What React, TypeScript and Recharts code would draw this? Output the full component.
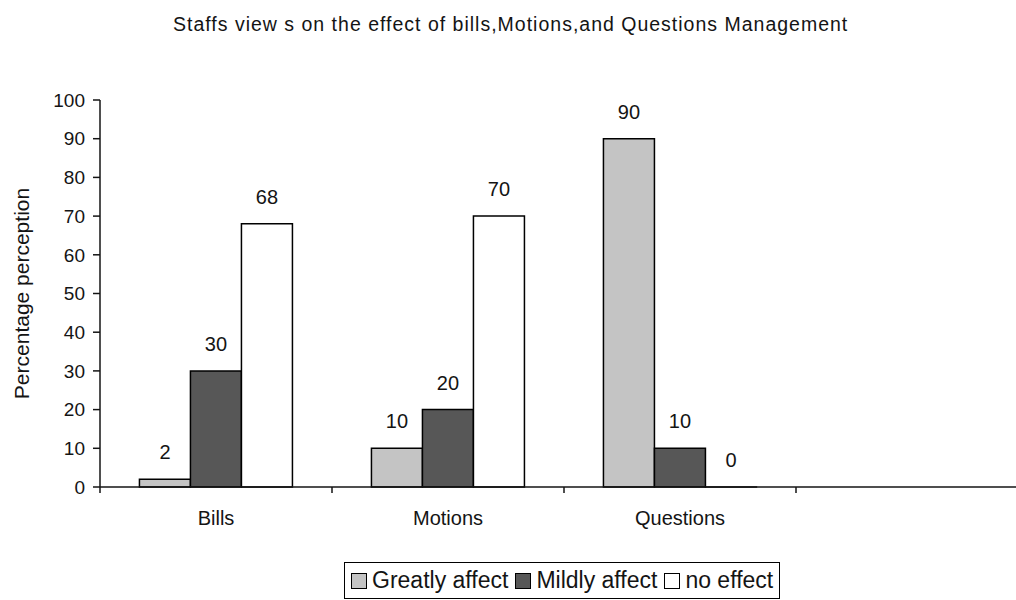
import { Bar, BarChart, XAxis, YAxis, LabelList } from "recharts"

const categories = ["Bills", "Motions", "Questions", ""]
const greatlyAffect = [2, 10, 90, null]
const mildlyAffect = [30, 20, 10, null]
const noEffect = [68, 70, 0, null]
const yTicks = [0, 10, 20, 30, 40, 50, 60, 70, 80, 90, 100]

const data = categories.map((name, i) => ({
  name,
  greatly: greatlyAffect[i],
  mildly: mildlyAffect[i],
  none: noEffect[i],
}))

const font = "'Liberation Sans', Arial, sans-serif"
const ink = "#141414"

const series = [
  { key: "greatly", label: "Greatly affect", fill: "#c4c4c4" },
  { key: "mildly", label: "Mildly affect", fill: "#575757" },
  { key: "none", label: "no effect", fill: "#ffffff" },
]

// ticks sit on the category boundaries, labels in the middle
function BoundaryTick(props: any) {
  const { x, y, payload } = props
  const half = payload.offset ?? 0
  return (
    <g>
      <line x1={x - half} x2={x - half} y1={y} y2={y + 6} stroke={ink} strokeWidth={1.5} />
      <text x={x} y={y + 38} textAnchor="middle" fontSize={20} fill={ink} fontFamily={font}>
        {payload.value}
      </text>
    </g>
  )
}

function ValueLabel(props: any) {
  const { x, y, width, value } = props
  if (value == null) return null
  return (
    <text
      x={Number(x) + Number(width) / 2}
      y={Number(y) - 20}
      textAnchor="middle"
      fontSize={20}
      fill={ink}
      fontFamily={font}
    >
      {value}
    </text>
  )
}

// a zero value still needs its "0" label, so keep a hair-thin bar for it
const keepZero = (v: any) => (v === 0 ? 0.01 : 0)

export default function App() {
  return (
    <div
      style={{
        position: "absolute",
        left: 0,
        top: 0,
        width: 1016,
        height: 600,
        overflow: "hidden",
        background: "#fff",
        fontFamily: font,
      }}
    >
      <div
        style={{
          position: "absolute",
          left: 173,
          top: 13,
          whiteSpace: "nowrap",
          fontSize: 19.5,
          letterSpacing: 1,
          color: ink,
        }}
      >
        Staffs view s on the effect of bills,Motions,and Questions Management
      </div>
      <BarChart
        width={1030}
        height={600}
        data={data}
        margin={{ top: 100, right: 2, left: 20, bottom: 83 }}
        barCategoryGap="17%"
        barGap={0}
      >
        <XAxis
          dataKey="name"
          interval={0}
          height={30}
          tickLine={false}
          tickSize={0}
          tickMargin={0}
          tick={<BoundaryTick />}
          axisLine={{ stroke: ink, strokeWidth: 1.5 }}
        />
        <YAxis
          width={80}
          domain={[0, 100]}
          ticks={yTicks}
          interval={0}
          tickSize={7}
          tickMargin={8}
          tickLine={{ stroke: ink, strokeWidth: 1.5 }}
          axisLine={{ stroke: ink, strokeWidth: 1.5 }}
          tick={{ fill: ink, fontSize: 19, fontFamily: font }}
          label={{
            value: "Percentage perception",
            angle: -90,
            position: "insideLeft",
            offset: 2,
            style: { textAnchor: "middle", fill: ink, fontSize: 21, fontFamily: font },
          }}
        />
        {series.map((s) => (
          <Bar
            key={s.key}
            dataKey={s.key}
            fill={s.fill}
            stroke="#000"
            strokeWidth={1.5}
            minPointSize={keepZero}
            isAnimationActive={false}
          >
            <LabelList dataKey={s.key} content={<ValueLabel />} />
          </Bar>
        ))}
      </BarChart>
      <div
        style={{
          position: "absolute",
          left: 344,
          top: 562,
          height: 37,
          padding: "0 6px",
          border: "1.5px solid #000",
          boxSizing: "border-box",
          display: "flex",
          alignItems: "center",
          gap: 7,
          whiteSpace: "nowrap",
          fontSize: 23,
          color: ink,
        }}
      >
        {series.map((s) => (
          <span key={s.key} style={{ display: "flex", alignItems: "center", gap: 5 }}>
            <span
              style={{
                display: "inline-block",
                width: 14,
                height: 14,
                background: s.fill,
                border: "1.5px solid #000",
              }}
            />
            {s.label}
          </span>
        ))}
      </div>
    </div>
  )
}
